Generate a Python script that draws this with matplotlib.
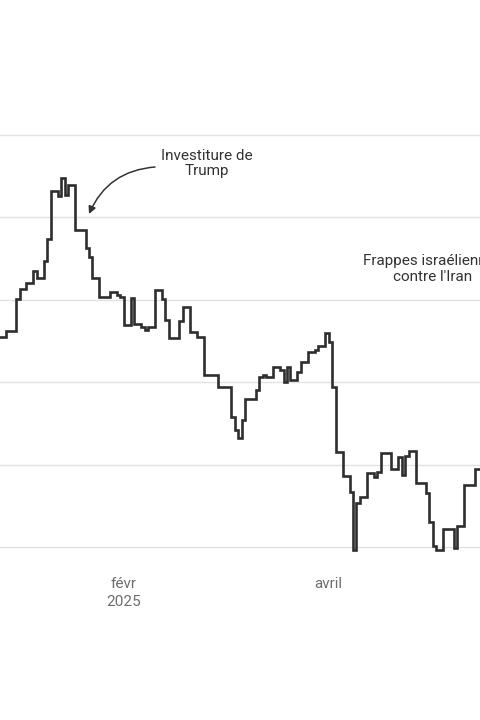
"""Brent-style daily price step chart, Dec 2024 - May 2025, with event annotations."""

import matplotlib

matplotlib.use("Agg")
import matplotlib.pyplot as plt
import pandas as pd

# ---- data (step changes, close in $) ----
dates = [
    "2024-12-27", "2024-12-29", "2025-01-01", "2025-01-02", "2025-01-04", "2025-01-06",
    "2025-01-07", "2025-01-09", "2025-01-10", "2025-01-11", "2025-01-13", "2025-01-14",
    "2025-01-15", "2025-01-16", "2025-01-18", "2025-01-21", "2025-01-22", "2025-01-23",
    "2025-01-25", "2025-01-28", "2025-01-30", "2025-01-31", "2025-02-01", "2025-02-03",
    "2025-02-04", "2025-02-06", "2025-02-07", "2025-02-08", "2025-02-10", "2025-02-12",
    "2025-02-13", "2025-02-14", "2025-02-17", "2025-02-18", "2025-02-20", "2025-02-22",
    "2025-02-24", "2025-02-28", "2025-03-04", "2025-03-05", "2025-03-06", "2025-03-07",
    "2025-03-08", "2025-03-11", "2025-03-12", "2025-03-13", "2025-03-14", "2025-03-16",
    "2025-03-18", "2025-03-19", "2025-03-20", "2025-03-21", "2025-03-23", "2025-03-24",
    "2025-03-26", "2025-03-28", "2025-03-29", "2025-03-31", "2025-04-01", "2025-04-02",
    "2025-04-03", "2025-04-05", "2025-04-07", "2025-04-08", "2025-04-09", "2025-04-10",
    "2025-04-12", "2025-04-14", "2025-04-15", "2025-04-16", "2025-04-19", "2025-04-21",
    "2025-04-22", "2025-04-23", "2025-04-24", "2025-04-26", "2025-04-29", "2025-04-30",
    "2025-05-01", "2025-05-02", "2025-05-04", "2025-05-07", "2025-05-08", "2025-05-10",
    "2025-05-13", "2025-05-16",
]
prices = [
    72.74, 73.11, 75.05, 75.66, 76.02, 76.75,
    76.32, 77.35, 78.69, 81.60, 81.30, 82.39,
    81.36, 81.97, 79.24, 78.14, 77.60, 76.32,
    75.17, 75.47, 75.29, 75.17, 73.47, 75.11,
    73.53, 73.35, 73.17, 73.35, 75.59, 75.05,
    73.77, 72.68, 73.71, 74.56, 73.05, 72.74,
    70.44, 69.71, 67.89, 67.10, 66.61, 67.71,
    68.98, 69.53, 70.32, 70.44, 70.32, 70.92,
    70.74, 70.01, 70.92, 70.13, 70.62, 71.23,
    71.83, 71.95, 72.20, 72.98, 72.44, 69.71,
    65.76, 64.31, 63.34, 59.82, 62.67, 63.03,
    64.49, 64.25, 64.55, 65.70, 64.73, 65.46,
    64.37, 65.52, 65.83, 63.88, 63.28, 61.52,
    60.06, 59.82, 61.09, 59.94, 61.27, 63.76,
    64.73, 64.73,
]
grid_values = [60, 65, 70, 75, 80, 85]
tick_dates = ["2025-02-01", "2025-04-01"]
tick_labels = ["févr\n2025", "avril"]
events = ["Investiture de\nTrump", "Frappes israéliennes\ncontre l'Iran"]

assert len(dates) == len(prices)

plt.rcParams["font.family"] = ["Roboto", "DejaVu Sans"]

fig = plt.figure(figsize=(4.8, 7.2), dpi=100)
ax = fig.add_axes([0, 160 / 720, 1, 560 / 720])

x = pd.to_datetime(dates)
ax.step(x, prices, where="post", color="#2e2e2e", lw=1.9, solid_joinstyle="miter", zorder=3)

ax.set_xlim(pd.Timestamp("2024-12-27 09:00"), pd.Timestamp("2025-05-14 13:30"))
ax.set_ylim(59.21, 93.19)

ax.set_yticks(grid_values)
ax.set_yticklabels([])
ax.grid(axis="y", color="#e2e2e2", lw=1.0, zorder=0)
ax.set_xticks(pd.to_datetime(tick_dates))
ax.set_xticklabels(tick_labels, fontsize=11, color="#6e6e6e", linespacing=1.35)
ax.tick_params(axis="both", length=0)
ax.tick_params(axis="x", pad=12)
for s in ax.spines.values():
    s.set_visible(False)

# ---- annotations (the second one runs off the right edge, as in the reference) ----
fig.text(207 / 480, 1 - 163.5 / 720, events[0], ha="center", va="center",
         fontsize=11, color="#333333", linespacing=1.15)
ax.annotate("", xy=(89 / 480, 1 - 214 / 720), xycoords="figure fraction",
            xytext=(155 / 480, 1 - 167 / 720), textcoords="figure fraction",
            arrowprops=dict(arrowstyle="-|>", color="#333333", lw=1.1,
                            mutation_scale=11, shrinkA=0, shrinkB=0,
                            connectionstyle="arc3,rad=0.3"))
fig.text(433 / 480, 1 - 269 / 720, events[1], ha="center", va="center",
         fontsize=11, color="#333333", linespacing=1.15)

fig.savefig("out.png", dpi=100, facecolor="white")
plt.close(fig)
